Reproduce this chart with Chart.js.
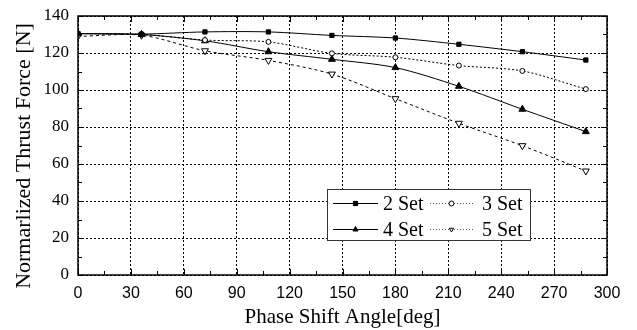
<!DOCTYPE html>
<html>
<head>
<meta charset="utf-8">
<script src="https://cdn.jsdelivr.net/npm/chart.js@4.4.0/dist/chart.umd.min.js"></script>
<style>
  html, body { margin: 0; padding: 0; background: #fff; }
  #wrap { width: 637px; height: 330px; }
</style>
</head>
<body>
<div id="wrap"><canvas id="chart" width="637" height="330"></canvas></div>
<script>
'use strict';

var angles = [0, 36, 72, 108, 144, 180, 216, 252, 288];
var set2 = [130.5, 130.2, 131.4, 131.4, 129.5, 128.1, 124.7, 120.7, 116.2];
var set3 = [130.5, 130.0, 127.0, 126.0, 119.8, 117.7, 113.2, 110.3, 100.5];
var set4 = [130.5, 130.0, 126.6, 120.7, 116.6, 112.1, 102.0, 89.6, 77.5];
var set5 = [129.0, 129.6, 121.2, 116.0, 108.6, 95.3, 82.0, 69.9, 56.2];
var seriesNames = ['2 Set', '3 Set', '4 Set', '5 Set'];
var xTicks = [0, 30, 60, 90, 120, 150, 180, 210, 240, 270, 300];
var yTicks = [0, 20, 40, 60, 80, 100, 120, 140];
var yTitle = 'Normarlized Thrust Force [N]';

var serif = '"Liberation Serif", "Times New Roman", serif';
var sans = '"Liberation Sans", Arial, sans-serif';

function pts(vals) {
  var out = [];
  for (var i = 0; i < angles.length; i++) {
    out.push({ x: angles[i], y: vals[i] });
  }
  return out;
}

var styles = [
  { dash: [], point: 'rect', fill: '#000', radius: 3, rot: 0 },
  { dash: [2, 2], point: 'circle', fill: '#fff', radius: 2.5, rot: 0 },
  { dash: [], point: 'triangle', fill: '#000', radius: 4, rot: 0 },
  { dash: [3, 3], point: 'triangle', fill: '#fff', radius: 4, rot: 180 }
];
var allSeries = [set2, set3, set4, set5];

var datasets = [];
for (var s = 0; s < allSeries.length; s++) {
  datasets.push({
    label: seriesNames[s],
    data: pts(allSeries[s]),
    showLine: true,
    borderColor: '#000',
    borderWidth: 1,
    borderDash: styles[s].dash,
    pointStyle: styles[s].point,
    pointRotation: styles[s].rot,
    pointRadius: styles[s].radius,
    pointBackgroundColor: styles[s].fill,
    pointBorderColor: '#000',
    pointBorderWidth: 1,
    tension: 0.3
  });
}

// inward ticks, frame, y title and legend box
var framePlugin = {
  id: 'frame',
  afterDraw: function (chart) {
    var ctx = chart.ctx;
    var a = chart.chartArea;
    var xs = chart.scales.x, ys = chart.scales.y;
    ctx.save();
    ctx.strokeStyle = '#000';
    ctx.lineWidth = 1.5;
    ctx.strokeRect(a.left, a.top, a.right - a.left, a.bottom - a.top);
    ctx.lineWidth = 1;
    ctx.beginPath();
    for (var v = 0; v <= 300; v += 15) {
      var px = Math.round(xs.getPixelForValue(v)) + 0.5;
      var len = (v % 30 === 0) ? 6 : 4;
      ctx.moveTo(px, a.bottom); ctx.lineTo(px, a.bottom - len);
      ctx.moveTo(px, a.top); ctx.lineTo(px, a.top + len);
    }
    for (var w = 0; w <= 140; w += 10) {
      var py = Math.round(ys.getPixelForValue(w)) + 0.5;
      var l2 = (w % 20 === 0) ? 6 : 4;
      ctx.moveTo(a.left, py); ctx.lineTo(a.left + l2, py);
      ctx.moveTo(a.right, py); ctx.lineTo(a.right - l2, py);
    }
    ctx.stroke();

    // y axis title
    ctx.save();
    ctx.translate(24, 156);
    ctx.rotate(-Math.PI / 2);
    ctx.font = '22px ' + serif;
    ctx.fillStyle = '#000';
    ctx.textAlign = 'center';
    ctx.textBaseline = 'middle';
    ctx.fillText(yTitle, 0, 0);
    ctx.restore();

    // legend
    var bx = 327.5, by = 189.5, bw = 203, bh = 51;
    ctx.fillStyle = '#fff';
    ctx.fillRect(bx, by, bw, bh);
    ctx.strokeStyle = '#333';
    ctx.lineWidth = 1;
    ctx.strokeRect(bx, by, bw, bh);
    ctx.font = '20px ' + serif;
    ctx.textBaseline = 'middle';
    ctx.textAlign = 'left';
    var cells = [
      { i: 0, x: 333, y: 203.5 },
      { i: 1, x: 430, y: 203.5 },
      { i: 2, x: 333, y: 229.5 },
      { i: 3, x: 430, y: 229.5 }
    ];
    for (var c = 0; c < cells.length; c++) {
      var cell = cells[c];
      var st = styles[cell.i];
      var dotted = cell.i % 2 === 1;
      var lw = dotted ? 43 : 45;
      ctx.strokeStyle = dotted ? '#555' : '#000';
      ctx.setLineDash(dotted ? [1, 2] : []);
      ctx.lineWidth = 1;
      ctx.beginPath();
      ctx.moveTo(cell.x, cell.y); ctx.lineTo(cell.x + lw, cell.y);
      ctx.stroke();
      ctx.setLineDash([]);
      ctx.strokeStyle = '#000';
      ctx.fillStyle = st.fill;
      Chart.helpers.drawPoint(ctx, {
        pointStyle: st.point, rotation: st.rot,
        radius: dotted ? 2.5 : 3, borderWidth: 1
      }, cell.x + lw / 2, cell.y);
      ctx.fillStyle = '#000';
      ctx.fillText(seriesNames[cell.i], cell.x + (dotted ? 52 : 50), cell.y + 1);
    }
    ctx.restore();
  }
};

new Chart(document.getElementById('chart').getContext('2d'), {
  type: 'scatter',
  data: { datasets: datasets },
  plugins: [framePlugin],
  options: {
    responsive: false,
    animation: false,
    layout: { padding: { top: 16, right: 30, left: 0, bottom: 0 } },
    plugins: { legend: { display: false }, tooltip: { enabled: false } },
    scales: {
      x: {
        type: 'linear', min: 0, max: 300,
        afterBuildTicks: function (scale) {
          scale.ticks = xTicks.map(function (v) { return { value: v }; });
        },
        afterFit: function (scale) {
          scale.height = 55;
          scale.paddingLeft = 0;
          scale.paddingRight = 0;
        },
        grid: { color: '#000', lineWidth: 1, drawTicks: false, tickLength: 0 },
        border: { display: false, dash: [2, 2] },
        ticks: {
          color: '#000', padding: 9, maxRotation: 0,
          font: { family: sans, size: 16 }
        },
        title: {
          display: true, text: 'Phase Shift Angle[deg]', color: '#000',
          font: { family: serif, size: 21 },
          padding: { top: 0, bottom: 0 }
        }
      },
      y: {
        type: 'linear', min: 0, max: 140,
        afterBuildTicks: function (scale) {
          scale.ticks = yTicks.map(function (v) { return { value: v }; });
        },
        afterFit: function (scale) {
          scale.width = 78;
          scale.paddingTop = 0;
          scale.paddingBottom = 0;
        },
        grid: { color: '#000', lineWidth: 1, drawTicks: false, tickLength: 0 },
        border: { display: false, dash: [2, 2] },
        ticks: {
          color: '#000', padding: 9,
          font: { family: serif, size: 17 }
        },
        title: { display: false }
      }
    }
  }
});
</script>
</body>
</html>
